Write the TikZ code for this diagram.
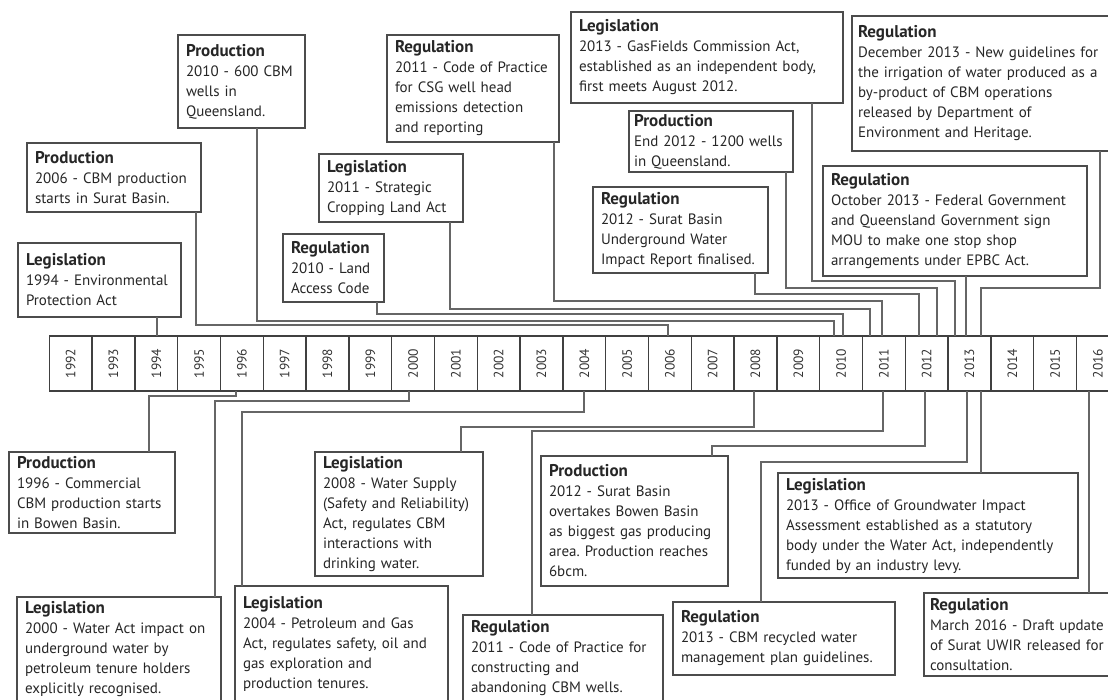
\documentclass[tikz,border=0pt]{standalone}
\usepackage{fontspec}
\setmainfont{PT Sans}
\frenchspacing
\newcommand{\boxhead}[1]{{\fontsize{17}{20}\selectfont\bfseries #1}}

\begin{document}
\begin{tikzpicture}[x=1pt,y=-1pt,
        box/.style={draw=black!70,line width=1.2pt,fill=white,anchor=north west,align=left,inner xsep=8pt,inner ysep=2pt,outer sep=0pt,text=black!85,font=\fontsize{15}{20}\selectfont,execute at begin node={\hyphenpenalty=10000\exhyphenpenalty=10000}},
        cell/.style={draw=black!75,line width=1.3pt,minimum width=42.8pt,minimum height=55pt,inner sep=0pt,outer sep=0pt},
        yearlabel/.style={rotate=90,text=black!80,font=\fontsize{13.5}{13.5}\selectfont},
        link/.style={draw=black!60,line width=1.3pt}]
            \useasboundingbox (0,0) rectangle (1108,699);
            \clip (0,0) rectangle (1108,699);

            \foreach \yr [count=\i from 0] in {1992,...,2016}{
                \node[cell] (y\yr) at (70.7+\i*42.8,363.5) {};
                \node[yearlabel] at (y\yr) {\yr};
            }

            \node[box,text width=147pt,minimum height=74pt] (leg1994) at (18,243) {\boxhead{Legislation}\\1994 - Environmental\\Protection Act};
            \node[box,text width=158pt,minimum height=69pt] (prod2006) at (27,143) {\boxhead{Production}\\2006 - CBM production\\starts in Surat Basin.};
            \node[box,text width=111pt,minimum height=93pt] (prod2010) at (178,35) {\boxhead{Production}\\2010 - 600 CBM\\wells in\\Queensland.};
            \node[box,text width=85pt,minimum height=68pt] (reg2010) at (283,234) {\boxhead{Regulation}\\2010 - Land\\Access Code};
            \node[box,text width=128pt,minimum height=68pt] (leg2011) at (319,154) {\boxhead{Legislation}\\2011 - Strategic\\Cropping Land Act};
            \node[box,text width=156pt,minimum height=107pt] (reg2011a) at (387,35) {\boxhead{Regulation}\\2011 - Code of Practice\\for CSG well head\\emissions detection\\and reporting};
            \node[box,text width=159pt,minimum height=86pt] (reg2012) at (593,187) {\boxhead{Regulation}\\2012 - Surat Basin\\Underground Water\\Impact Report finalised.};
            \node[box,inner xsep=5pt,text width=154pt,minimum height=61pt] (prod2012a) at (629,111) {\boxhead{Production}\\End 2012 - 1200 wells\\in Queensland.};
            \node[box,text width=256pt,minimum height=91pt] (leg2013a) at (571,12) {\boxhead{Legislation}\\2013 - GasFields Commission Act,\\established as an independent body,\\first meets August 2012.};
            \node[box,inner xsep=6pt,text width=278pt,minimum height=135pt] (reg2013b) at (852,16) {\boxhead{Regulation}\\December 2013 - New guidelines for\\the irrigation of water produced as a\\by-product of CBM operations\\released by Department of\\Environment and Heritage.};
            \node[box,text width=248pt,minimum height=110pt] (reg2013a) at (823,166) {\boxhead{Regulation}\\October 2013 - Federal Government\\and Queensland Government sign\\MOU to make one stop shop\\arrangements under EPBC Act.};

            \node[box,text width=150pt,minimum height=81pt] (prod1996) at (9,452) {\boxhead{Production}\\1996 - Commercial\\CBM production starts\\in Bowen Basin.};
            \node[box,text width=188pt,minimum height=104pt] (leg2000) at (17,597) {\boxhead{Legislation}\\2000 - Water Act impact on\\underground water by\\petroleum tenure holders\\explicitly recognised.};
            \node[box,text width=197pt,minimum height=115pt] (leg2004) at (235,586) {\boxhead{Legislation}\\2004 - Petroleum and Gas\\Act, regulates safety, oil and\\gas exploration and\\production tenures.};
            \node[box,text width=152pt,minimum height=124pt] (leg2008) at (315,452) {\boxhead{Legislation}\\2008 - Water Supply\\(Safety and Reliability)\\Act, regulates CBM\\interactions with\\drinking water.};
            \node[box,text width=184pt,minimum height=86pt] (reg2011b) at (463,615) {\boxhead{Regulation}\\2011 - Code of Practice for\\constructing and\\abandoning CBM wells.};
            \node[box,text width=171pt,minimum height=130pt] (prod2012b) at (541,456) {\boxhead{Production}\\2012 - Surat Basin\\overtakes Bowen Basin\\as biggest gas producing\\area. Production reaches\\6bcm.};
            \node[box,text width=206pt,minimum height=73pt] (reg2013c) at (673,602) {\boxhead{Regulation}\\2013 - CBM recycled water\\management plan guidelines.};
            \node[box,text width=284pt,minimum height=105pt] (leg2013b) at (778,473) {\boxhead{Legislation}\\2013 - Office of Groundwater Impact\\Assessment established as a statutory\\body under the Water Act, independently\\funded by an industry levy.};
            \node[box,inner xsep=6pt,text width=200pt,minimum height=83pt] (reg2016) at (924,593) {\boxhead{Regulation}\\March 2016 - Draft update\\of Surat UWIR released for\\consultation.};

            \draw[link] (leg1994.south -| 157,0)--(y1994.north -| 157,0);
            \draw[link] (prod2006.south -| 196,0)|-(668,325)--(y2006.north -| 668,0);
            \draw[link] (prod2010.south -| 257,0)|-(834,321)--(y2010.north -| 834,0);
            \draw[link] (reg2010.south -| 377,0)|-(843,314)--(y2010.north -| 843,0);
            \draw[link] (leg2011.south -| 450,0)|-(870,309)--(y2011.north -| 870,0);
            \draw[link] (reg2011a.south -| 554,0)|-(882,301)--(y2011.north -| 882,0);
            \draw[link] (reg2012.south -| 755,0)|-(919,294)--(y2012.north -| 919,0);
            \draw[link] (prod2012a.south -| 786,0)|-(937,288)--(y2012.north -| 937,0);
            \draw[link] (leg2013a.south -| 812,0)|-(955,281)--(y2013.north -| 955,0);
            \draw[link] (reg2013a.south -| 966,0)--(y2013.north -| 966,0);
            \draw[link] (reg2013b.south -| 1100,0)|-(981,288)--(y2013.north -| 981,0);

            \draw[link] (y1996.south -| 236,0)|-(149,396)--(prod1996.north -| 149,0);
            \draw[link] (y2000.south -| 409,0)|-(215,401)--(leg2000.north -| 215,0);
            \draw[link] (y2004.south -| 584,0)|-(242,412)--(leg2004.north -| 242,0);
            \draw[link] (y2008.south -| 754,0)|-(461,427)--(leg2008.north -| 461,0);
            \draw[link] (y2011.south -| 883,0)|-(532,431)--(reg2011b.north -| 532,0);
            \draw[link] (y2012.south -| 925,0)|-(712,446)--(prod2012b.north -| 712,0);
            \draw[link] (y2013.south -| 967,0)|-(761,462)--(reg2013c.north -| 761,0);
            \draw[link] (y2013.south -| 981,0)--(leg2013b.north -| 981,0);
            \draw[link] (y2016.south -| 1089,0)--(reg2016.north -| 1089,0);
        \end{tikzpicture}
\end{document}
